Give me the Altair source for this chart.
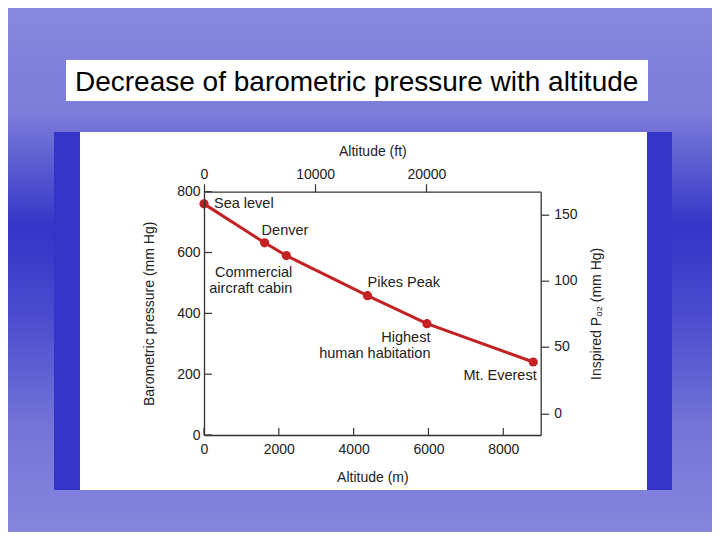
import altair as alt
import pandas as pd

# ---- data ----
altitude_m = [0, 1620, 2200, 4370, 5960, 8800]
pressure_mmhg = [760, 632, 590, 458, 366, 240]
place = ["Sea level", "Denver", "Commercial\naircraft cabin", "Pikes Peak",
         "Highest\nhuman habitation", "Mt. Everest"]

pressure_ticks = [0, 200, 400, 600, 800]
altitude_m_ticks = [0, 2000, 4000, 6000, 8000]
altitude_ft_ticks = [0, 10000, 20000]
po2_ticks = [0, 50, 100, 150]

slide_title = ["Decrease of barometric pressure with altitude"]

# ---- layout ----
W, H = 336.7, 243.3
PAD_L, PAD_T = 196, 183.7
SVG_W, SVG_H = 704, 524
FONT = "Liberation Sans"
INK = "#222222"
RED = "#C42222"

df = pd.DataFrame({"alt": altitude_m, "p": pressure_mmhg, "place": place})
one = pd.DataFrame({"k": [0]})

xs = alt.Scale(domain=[0, 9000], nice=False, zero=False)
ys = alt.Scale(domain=[0, 800], nice=False, zero=False)

common_axis = dict(grid=False, zindex=3, domainColor="#333333", domainWidth=1.3,
                   labelFont=FONT, labelFontSize=14, labelColor=INK,
                   titleFont=FONT, titleFontSize=14, titleFontWeight="normal",
                   titleColor=INK, labelOverlap=False, labelFlush=False, format="d")

x_axis = alt.Axis(orient="bottom", values=altitude_m_ticks, ticks=False, tickSize=0,
                  labelPadding=7, title="Altitude (m)", titlePadding=14, **common_axis)
y_axis = alt.Axis(orient="left", values=pressure_ticks, ticks=False, tickSize=0,
                  labelPadding=4, title="Barometric pressure (mm Hg)", titlePadding=20,
                  **common_axis)

X = alt.X("alt:Q", scale=xs, axis=x_axis)
Y = alt.Y("p:Q", scale=ys, axis=y_axis)


def box(x0, x1, y0, y1, **kw):
    return alt.Chart(one).mark_rect(**kw).encode(
        x=alt.value(x0 - PAD_L - 8), x2=alt.value(x1 - PAD_L - 8),
        y=alt.value(y0 - PAD_T - 8), y2=alt.value(y1 - PAD_T - 8))


bg = box(8, 8 + SVG_W, 8, 8 + SVG_H, fill=alt.LinearGradient(
    gradient="linear", x1=0, x2=0, y1=0, y2=1,
    stops=[alt.GradientStop(color="#8888E0", offset=0),
           alt.GradientStop(color="#7C7CDA", offset=0.2),
           alt.GradientStop(color="#3434C8", offset=0.42),
           alt.GradientStop(color="#4A4ACE", offset=0.58),
           alt.GradientStop(color="#7474D8", offset=0.8),
           alt.GradientStop(color="#8686DE", offset=1)]))
panel = box(54, 672, 132, 490, fill="#3434C8")
white = box(80, 647, 132, 490, fill="#FFFFFF")
title_box = box(66, 648, 60, 101, fill="#FFFFFF")
title = alt.Chart(pd.DataFrame({"t": slide_title})).mark_text(
    align="left", baseline="alphabetic", font=FONT, fontSize=28, color="#000000"
).encode(text="t:N", x=alt.value(75 - PAD_L - 8), y=alt.value(91 - PAD_T - 8))

# inward tick marks
ticks_bottom = alt.Chart(pd.DataFrame({"alt": altitude_m_ticks})).mark_rule(
    color="#333333", strokeWidth=1.2).encode(x=X, y=alt.value(H), y2=alt.value(H - 7))
ticks_left = alt.Chart(pd.DataFrame({"p": pressure_ticks})).mark_rule(
    color="#333333", strokeWidth=1.2).encode(y=Y, x=alt.value(0), x2=alt.value(8))

line = alt.Chart(df).mark_line(color=RED, strokeWidth=3).encode(x=X, y=Y)
pts = alt.Chart(df).mark_circle(color=RED, size=85, opacity=1).encode(x=X, y=Y)


def label(name, align, dx, dy):
    return alt.Chart(df).transform_filter(alt.datum.place == name).mark_text(
        align=align, baseline="middle", dx=dx, dy=dy, font=FONT, fontSize=14.5,
        color=INK, lineBreak="\n", lineHeight=16
    ).encode(x=X, y=Y, text="place:N")


labels = [
    label(place[0], "left", 10, 0),
    label(place[1], "left", -3, -12),
    label(place[2], "right", 6, 17),
    label(place[3], "left", 0, -13),
    label(place[4], "right", 3.5, 14),
    label(place[5], "right", 3.5, 14),
]

main = alt.layer(bg, panel, white, title_box, title, ticks_bottom, ticks_left,
                 line, pts, *labels)

ghost_axis = dict(common_axis)
ghost = alt.Chart(pd.DataFrame({"ft": altitude_ft_ticks[:1], "po2": po2_ticks[:1]})).mark_point(
    opacity=0).encode(
    x=alt.X("ft:Q", scale=alt.Scale(domain=[0, 30280], nice=False, zero=False),
            axis=alt.Axis(orient="top", values=altitude_ft_ticks, tickSize=8,
                          tickColor="#333333", tickWidth=1.2, labelPadding=2,
                          title="Altitude (ft)", titlePadding=9, **ghost_axis)),
    y=alt.Y("po2:Q", scale=alt.Scale(domain=[-16.4, 167], nice=False, zero=False),
            axis=alt.Axis(orient="right", values=po2_ticks, tickSize=8,
                          tickColor="#333333", tickWidth=1.2, labelPadding=5,
                          title="Inspired Pₒ₂ (mm Hg)", titleAngle=270,
                          titlePadding=26, **ghost_axis)),
)

chart = alt.layer(main, ghost).resolve_scale(x="independent", y="independent").properties(
    width=W, height=H,
    autosize=alt.AutoSizeParams(type="none"),
    padding={"left": PAD_L, "top": PAD_T, "right": SVG_W - PAD_L - W,
             "bottom": SVG_H - PAD_T - H},
    background="#8686DE",
).configure_view(stroke=None)

chart.save("out.html", embed_options={"renderer": "svg", "actions": False})
